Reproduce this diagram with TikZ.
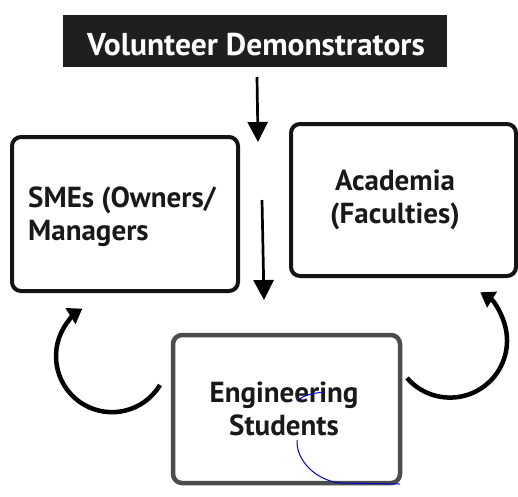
\documentclass[tikz,border=0pt]{standalone}
\usepackage{fontspec}
\setmainfont{PT Sans}
\usetikzlibrary{arrows.meta}
\tikzset{
  box/.style={draw=black!92, line width=4pt, rounded corners=9pt, inner sep=0pt},
  lbl/.style={font=\bfseries\fontsize{29}{33}\selectfont, text=black!90, inner sep=0pt},
  arr/.style={line width=2.7pt, -{Triangle[length=20pt,width=20pt]}},
  carr/.style={line width=4.5pt, -{Triangle[length=14pt,width=18pt]}},
}
\begin{document}
\begin{tikzpicture}[x=1pt,y=-1pt]
\useasboundingbox (0,0) rectangle (518,496);
% top banner
\node[fill=black!88, minimum width=384pt, minimum height=52pt, inner sep=0pt] (vd) at (255,41) {};
\node[lbl, font=\bfseries\fontsize{31.5}{34}\selectfont, text=white, anchor=base] (vdt) at (256,55) {Volunteer Demonstrators};
% boxes
\node[box, minimum width=226pt, minimum height=154pt] (sme) at (125,214) {};
\node[box, minimum width=225pt, minimum height=152pt] (aca) at (403.5,200) {};
\node[box, draw=black!70, line width=4.5pt, minimum width=227pt, minimum height=148pt] (eng) at (286.5,409) {};
% texts
\node[lbl, align=left, anchor=west] (smet) at (28,217) {SMEs (Owners/\\Managers};
\node[lbl, align=center] (acat) at (395,199.5) {Academia\\(Faculties)};
\node[lbl, align=center] (engt) at (284,409) {Engineering\\Students};
% straight arrows
\coordinate (a1s) at (257,77);
\coordinate (a1e) at (258,142);
\coordinate (a2s) at (262,200);
\coordinate (a2e) at (264,300);
\draw[arr] (a1s) -- (a1e);
\draw[arr] (a2s) -- (a2e);
% curved arrows
\coordinate (ls) at (160,385);
\coordinate (rs) at (407,378);
\draw[carr] (ls) arc[start angle=31, end angle=238, radius=56];
\draw[carr] (rs) arc[start angle=139, end angle=-58, radius=57];
% blue pen marks
\draw[blue!80!black, line width=1pt] (297,401) .. controls (305,394) and (315,393) .. (325,392);
\draw[blue!80!black, line width=1pt] (297,440) .. controls (296,460) and (315,480) .. (340,483) -- (400,484);
\end{tikzpicture}
\end{document}
